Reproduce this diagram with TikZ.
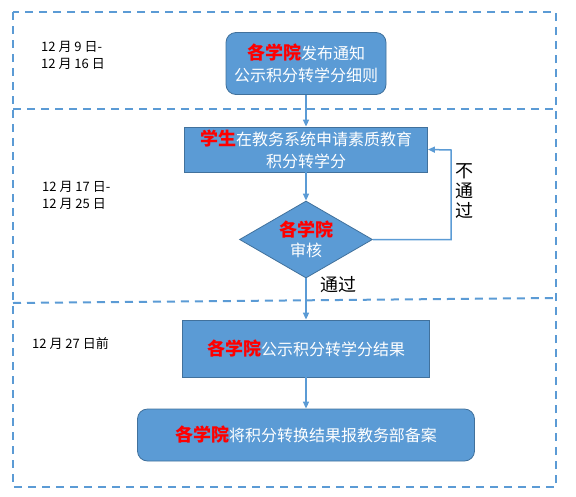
\documentclass[tikz,border=0pt]{standalone}
\usepackage{fontspec}
\setmainfont{Noto Sans CJK SC}
\usetikzlibrary{arrows.meta,positioning,shapes.geometric}
\definecolor{flowblue}{RGB}{91,155,213}
\definecolor{flowedge}{RGB}{65,113,156}
\definecolor{flowred}{RGB}{255,0,0}
\newcommand{\hot}[1]{\textcolor{flowred}{\fontsize{18}{22}\selectfont\bfseries #1}}
\tikzset{
  flow/.style={rectangle,draw=flowedge,fill=flowblue,line width=0.8pt,
               text=white,align=center,inner sep=0pt,
               font=\fontsize{16}{22}\selectfont},
  flowround/.style={flow,rounded corners=10pt},
  chk/.style={diamond,draw=flowedge,fill=flowblue,line width=0.8pt,
              text=white,align=center,inner sep=0pt,aspect=1.7,
              minimum width=133pt,minimum height=77pt,
              font=\fontsize{16}{20}\selectfont},
  link/.style={-{Triangle[length=7pt,width=6pt]},flowblue,line width=1.5pt},
  zone/.style={flowblue,line width=2pt,dash pattern=on 8pt off 6pt},
  date/.style={anchor=west,align=left,inner sep=0pt,
               font=\fontsize{13}{17}\selectfont},
  tag/.style={inner sep=0pt,align=center,font=\fontsize{18}{20}\selectfont},
}
\begin{document}
\begin{tikzpicture}[x=1pt,y=-1pt]
  \useasboundingbox (0,0) rectangle (576,496);

  %% time zones
  \draw[zone] (13,12) rectangle (556,487);
  \draw[zone] (13,109) -- (556,109);
  \draw[zone] (13,303) -- (556,298);

  \node[date] (d1) at (41,55.5) {12 月 9 日-\\12 月 16 日};
  \node[date] (d2) at (42,195) {12 月 17 日-\\12 月 25 日};
  \node[date] (d3) at (32,343.5) {12 月 27 日前};

  %% steps
  \node[flowround,minimum width=160pt,minimum height=62pt]
    (notice) at (306,63.5) {\hot{各学院}发布通知\\公示积分转学分细则};
  \node[flow,minimum width=243pt,minimum height=45pt]
    (apply) at (306,149.5) {\hot{学生}在教务系统申请素质教育\\积分转学分};
  \node[chk] (check) at (306,239.5) {\hot{各学院}\\审核};
  \node[flow,minimum width=247pt,minimum height=57pt]
    (publish) at (306,348.5) {\hot{各学院}公示积分转学分结果};
  \node[flowround,minimum width=337pt,minimum height=52pt]
    (report) at (306,435) {\hot{各学院}将积分转换结果报教务部备案};

  %% connectors
  \coordinate (back) at (451,150);
  \draw[link] (notice) -- (apply);
  \draw[link] (apply) -- (check);
  \draw[link] (check) -- (publish);
  \draw[link] (publish) -- (report);
  \draw[link] (check.east) -| (back) -- (apply.east);

  \node[tag] (fail) at (464,191) {不\\通\\过};
  \node[tag] (pass) at (338,285) {通过};

\end{tikzpicture}
\end{document}
